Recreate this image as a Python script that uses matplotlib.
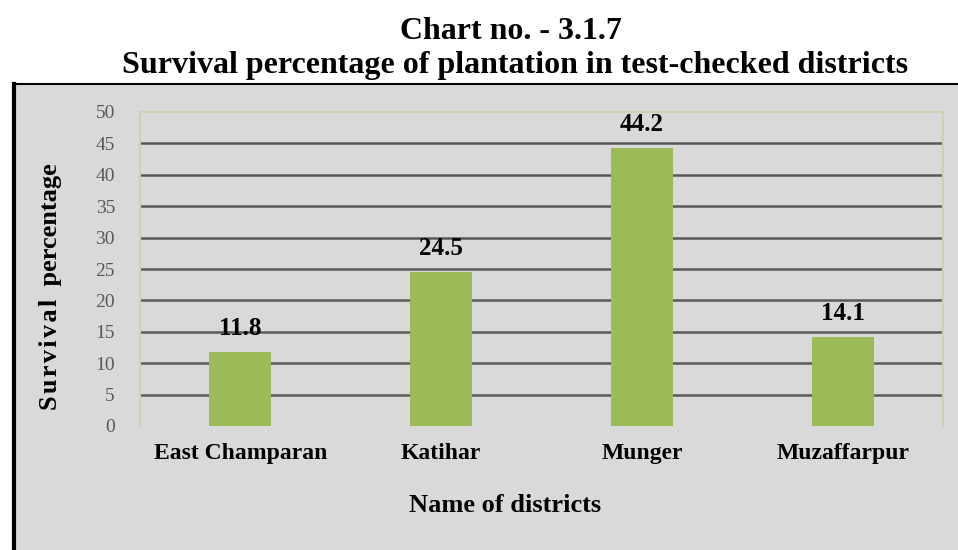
import matplotlib.pyplot as plt
from matplotlib.patches import Rectangle

# data
districts = ["East Champaran", "Katihar", "Munger", "Muzaffarpur"]
survival = [11.8, 24.5, 44.2, 14.1]
y_ticks = [0, 5, 10, 15, 20, 25, 30, 35, 40, 45, 50]

plt.rcParams['font.family'] = ['Liberation Serif', 'DejaVu Serif']

fig = plt.figure(figsize=(9.58, 5.5), dpi=100)
fig.patch.set_facecolor('white')

# gray panel behind the chart
panel = Rectangle((14 / 958, 0), 1 - 14 / 958, 1 - 84 / 550, transform=fig.transFigure,
                  facecolor='#D9D9D9', edgecolor='none', zorder=-10)
fig.add_artist(panel)
fig.add_artist(plt.Line2D([14 / 958, 14 / 958], [0, 1 - 84 / 550], transform=fig.transFigure,
                          color='black', lw=3, zorder=-5))
fig.add_artist(plt.Line2D([14 / 958, 1], [1 - 84 / 550, 1 - 84 / 550], transform=fig.transFigure,
                          color='black', lw=1.5, zorder=-5))

ax = fig.add_axes([140 / 958, 1 - 426 / 550, 803 / 958, 314 / 550])
ax.set_facecolor('#D9D9D9')

x = range(len(districts))
ax.bar(x, survival, width=0.31, color='#9BBB59', zorder=3)
for xi, v in zip(x, survival):
    ax.text(xi, v + 2.7, f"{v}", ha='center', va='baseline', fontsize=18, fontweight='bold')

ax.set_xlim(-0.5, len(districts) - 0.5)
ax.set_ylim(0, 50)
ax.set_yticks(y_ticks)
ax.set_yticklabels([str(t) for t in y_ticks], color='#595959', fontsize=14)
ax.set_xticks(list(x))
ax.set_xticklabels(districts, fontsize=17, fontweight='bold')
ax.tick_params(axis='both', length=0)
ax.tick_params(axis='y', pad=18)
ax.tick_params(axis='x', pad=12)

for t in y_ticks[1:-1]:
    ax.axhline(t, color='#5a5a5a', lw=1.8, zorder=1)

for side in ['left', 'top', 'right']:
    ax.spines[side].set_color('#C8D4B8')
    ax.spines[side].set_linewidth(1.5)
ax.spines['bottom'].set_visible(False)

# axis titles
fig.text(51 / 958, 1 - 287 / 550, "S\u200au\u200ar\u200av\u200ai\u200av\u200aa\u200al  percentage",
         rotation=90, ha='center', va='center', fontsize=19, fontweight='bold')
fig.text(505 / 958, 1 - 505 / 550, "Name of districts", ha='center', va='center',
         fontsize=19, fontweight='bold')

fig.text(511 / 958, 1 - 39 / 550, "Chart no. - 3.1.7", ha='center', va='baseline',
         fontsize=23, fontweight='bold')
fig.text(515 / 958, 1 - 73 / 550, "Survival percentage of plantation in test-checked districts",
         ha='center', va='baseline', fontsize=23, fontweight='bold')

plt.savefig("out.png", dpi=100)
